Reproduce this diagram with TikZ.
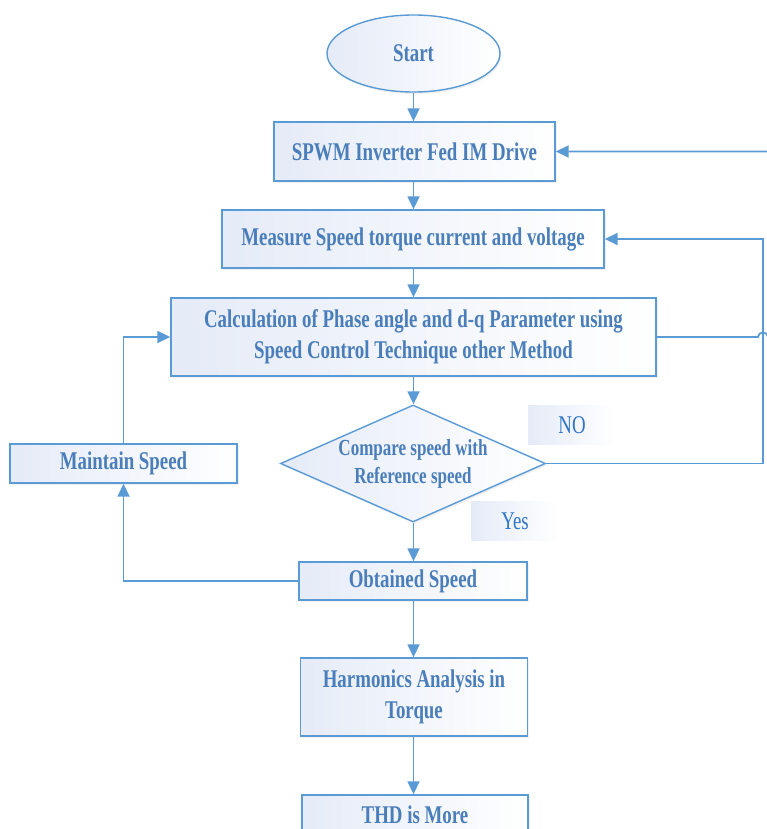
\documentclass[tikz,border=0pt]{standalone}
\usepackage{fontspec}
\setmainfont{Liberation Serif}[FakeStretch=0.74]
\usetikzlibrary{shapes.geometric,arrows.meta,shadows}
\definecolor{bord}{RGB}{91,155,213}
\definecolor{txtc}{RGB}{74,126,187}
\definecolor{lblc}{RGB}{47,117,200}
\definecolor{fillc}{RGB}{229,235,247}
\begin{document}
\begin{tikzpicture}[x=1pt,y=-1pt,
  box/.style={draw=bord, line width=1.4pt, left color=fillc, right color=white,
    font=\fontsize{25.5}{31}\selectfont\bfseries, text=txtc, align=center, inner sep=0pt,
    drop shadow={opacity=0.12, shadow xshift=1.5pt, shadow yshift=-2pt}},
  dtext/.style={font=\fontsize{23}{28}\selectfont\bfseries, text=txtc, align=center, inner sep=0pt},
  lbl/.style={left color=fillc, right color=white, minimum width=88pt, minimum height=39pt,
    font=\fontsize{25.5}{31}\selectfont, text=lblc, inner sep=0pt},
  arr/.style={draw=bord, line width=1.8pt, -{Triangle[length=13pt,width=12pt]}},
  conn/.style={draw=bord, line width=1.8pt}]
\useasboundingbox (0,0) rectangle (766,829);

\coordinate (rx) at (763,0);
\coordinate (rx2) at (772,0);
\coordinate (hopA) at (758,0);
\coordinate (hopB) at (768,0);

\node[box, ellipse, minimum width=173pt, minimum height=77pt] (start) at (413.5,53.5) {Start};
\node[box, minimum width=281pt, minimum height=59pt] (spwm) at (414.5,151.5) {SPWM Inverter Fed IM Drive};
\node[box, minimum width=382pt, minimum height=58pt] (meas) at (413,239) {Measure Speed torque current and voltage};
\node[box, minimum width=485pt, minimum height=78pt] (calc) at (413.5,337) {Calculation of Phase angle and d-q Parameter using\\Speed Control Technique other Method};
\node[box, diamond, minimum width=265pt, minimum height=117pt] (cmp) at (413,463.5) {};
\node[dtext] (cmptext) at (cmp) {Compare speed with\\Reference speed};
\node[lbl] (no) at (572,425) {NO};
\node[lbl] (yes) at (515,521) {Yes};
\node[box, minimum width=227pt, minimum height=39pt] (maint) at (123.5,463.5) {Maintain Speed};
\node[box, minimum width=228pt, minimum height=38pt] (obt) at (413,581) {Obtained Speed};
\node[box, minimum width=227pt, minimum height=78pt] (harm) at (414,697) {Harmonics Analysis in\\Torque};
\node[box, minimum width=226pt, minimum height=40pt] (thd) at (415,815) {THD is More};

\draw[arr] (start.south) -- (start.south |- spwm.north);
\draw[arr] (spwm.south -| start.south) -- (start.south |- meas.north);
\draw[arr] (meas.south -| start.south) -- (start.south |- calc.north);
\draw[arr] (calc.south -| start.south) -- (start.south |- cmp.north);
\draw[arr] (cmp.south -| start.south) -- (start.south |- obt.north);
\draw[arr] (obt.south -| start.south) -- (start.south |- harm.north);
\draw[arr] (harm.south -| start.south) -- (start.south |- thd.north);

\draw[arr] (cmp.east) -- (cmp.east -| rx) -- (rx |- meas.east) -- (meas.east);
\draw[arr] (calc.east) -- (calc.east -| hopA) .. controls +(0,-6) and +(0,-6) .. (calc.east -| hopB) -- (calc.east -| rx2) -- (rx2 |- spwm.east) -- (spwm.east);
\draw[arr] (maint.north) -- (maint.north |- calc.west) -- (calc.west);
\draw[arr] (obt.west) -- (obt.west -| maint.south) -- (maint.south);
\end{tikzpicture}
\end{document}
